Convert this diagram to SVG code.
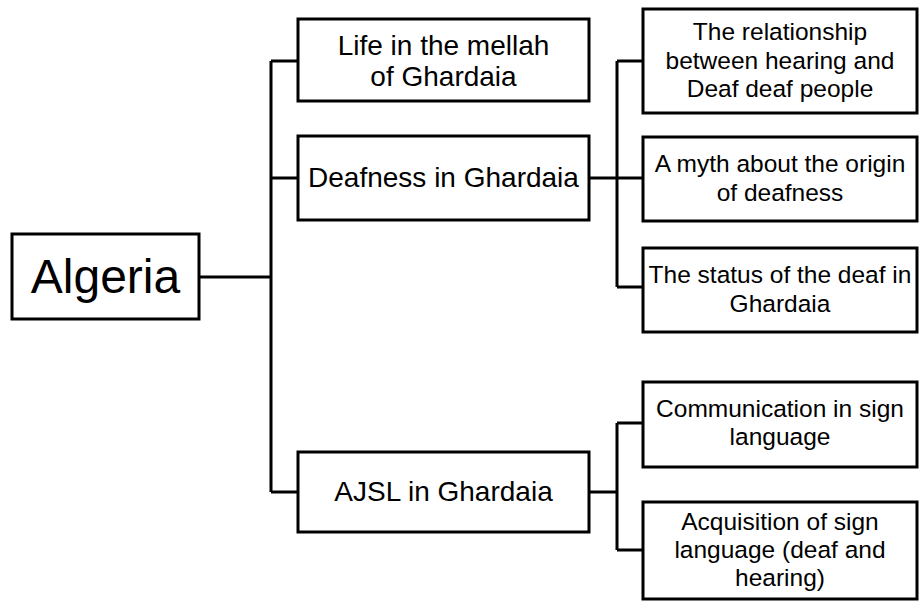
<svg xmlns="http://www.w3.org/2000/svg" width="919" height="602" viewBox="0 0 919 602">
<style>
.box{fill:#fff;stroke:#000;stroke-width:3}
.ln{fill:none;stroke:#000;stroke-width:3}
text{font-family:"Liberation Sans",Arial,sans-serif;fill:#000;text-anchor:middle}
.big{font-size:48px}
.mid{font-size:28px}
.sm{font-size:24.5px}
</style>
<rect width="919" height="602" fill="#fff"/>
<g id="connectors">
<path class="ln" d="M199 277H271M271 61V492M271 61H298M271 178H298M271 492H298"/>
<path class="ln" d="M589 178H643M617 61V287M617 61H643M617 287H643"/>
<path class="ln" d="M589 492H617M617 423V550M617 423H643M617 550H643"/>
</g>
<g id="algeria"><rect class="box" x="12" y="234" width="187" height="85"/><text class="big" x="105.5" y="293">Algeria</text></g>
<g id="life"><rect class="box" x="298" y="19" width="291" height="82"/><text class="mid" x="443.5" y="55">Life in the mellah</text><text class="mid" x="443.5" y="86">of Ghardaia</text></g>
<g id="deafness"><rect class="box" x="298" y="136" width="291" height="84"/><text class="mid" x="443.5" y="187">Deafness in Ghardaia</text></g>
<g id="ajsl"><rect class="box" x="298" y="452" width="291" height="80"/><text class="mid" x="443.5" y="501">AJSL in Ghardaia</text></g>
<g id="relationship"><rect class="box" x="643" y="9" width="274" height="104"/><text class="sm" x="780" y="40">The relationship</text><text class="sm" x="780" y="69">between hearing and</text><text class="sm" x="780" y="97">Deaf deaf people</text></g>
<g id="myth"><rect class="box" x="643" y="137" width="274" height="84"/><text class="sm" x="780" y="172">A myth about the origin</text><text class="sm" x="780" y="201">of deafness</text></g>
<g id="status"><rect class="box" x="643" y="248" width="274" height="84"/><text class="sm" x="780" y="283">The status of the deaf in</text><text class="sm" x="780" y="312">Ghardaia</text></g>
<g id="communication"><rect class="box" x="643" y="382" width="274" height="85"/><text class="sm" x="780" y="417">Communication in sign</text><text class="sm" x="780" y="445">language</text></g>
<g id="acquisition"><rect class="box" x="643" y="502" width="274" height="97"/><text class="sm" x="780" y="530">Acquisition of sign</text><text class="sm" x="780" y="558">language (deaf and</text><text class="sm" x="780" y="586">hearing)</text></g>
</svg>
